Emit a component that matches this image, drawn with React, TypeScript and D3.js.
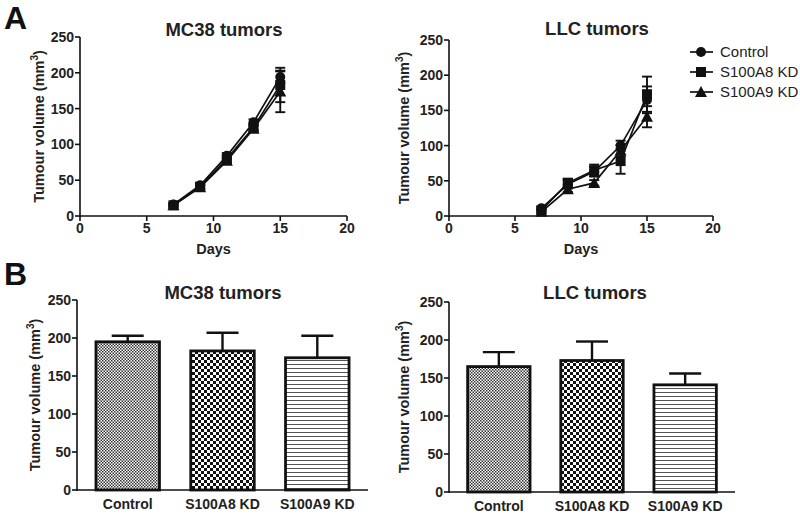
import React from "react";
import * as d3 from "d3";

const days = [7, 9, 11, 13, 15];
const groups = ["Control", "S100A8 KD", "S100A9 KD"];
const markers = ["circle", "square", "triangle"];

const mc38Mean = [
  [16, 43, 84, 131, 194],
  [15, 41, 80, 124, 183],
  [15, 40, 77, 122, 174],
];
const mc38Err = [
  [2, 3, 4, 4, 8],
  [2, 3, 4, 4, 24],
  [2, 3, 4, 4, 29],
];
const llcMean = [
  [11, 45, 63, 100, 165],
  [8, 47, 65, 78, 173],
  [6, 38, 47, 93, 141],
];
const llcErr = [
  [2, 6, 7, 7, 19],
  [2, 6, 8, 18, 25],
  [2, 4, 4, 8, 15],
];
const mc38Bar = [195, 183, 174];
const mc38BarErr = [8, 24, 29];
const llcBar = [165, 173, 141];
const llcBarErr = [19, 25, 15];

const xTicks = [0, 5, 10, 15, 20];
const yTicks = [0, 50, 100, 150, 200, 250];

const FONT = "'Liberation Sans', Arial, sans-serif";

function Marker({ type, x, y }: { type: string; x: number; y: number }) {
  if (type === "circle") return <circle cx={x} cy={y} r={5} fill="#111" />;
  if (type === "square") return <rect x={x - 5} y={y - 5} width={10} height={10} fill="#111" />;
  return <path d={`M${x},${y - 6}L${x + 6},${y + 5}L${x - 6},${y + 5}Z`} fill="#111" />;
}

function YAxis({ y, x0, labelX }: { y: d3.ScaleLinear<number, number>; x0: number; labelX: number }) {
  const [r0, r1] = y.range();
  return (
    <g>
      <line x1={x0} x2={x0} y1={r0 + 1} y2={r1} stroke="#111" strokeWidth={1.6} />
      {yTicks.map((t) => (
        <g key={t}>
          <line x1={x0 - 5} x2={x0} y1={y(t)} y2={y(t)} stroke="#111" strokeWidth={1.6} />
          <text x={x0 - 6} y={y(t)} dy="0.36em" textAnchor="end" fontSize={14} fontWeight="bold" fill="#222">
            {t}
          </text>
        </g>
      ))}
      <text
        transform={`translate(${labelX},${(r0 + r1) / 2}) rotate(-90)`}
        textAnchor="middle"
        fontSize={14.5}
        fontWeight="bold"
        fill="#222"
      >
        Tumour volume (mm
        <tspan dy="-6" fontSize={10}>3</tspan>
        <tspan dy="6">)</tspan>
      </text>
    </g>
  );
}

function LinePanel({
  title, titleX, titleY, means, errs, xr, yr, labelX, legend,
}: {
  title: string; titleX: number; titleY: number; means: number[][]; errs: number[][]; xr: [number, number]; yr: [number, number]; labelX: number; legend?: boolean;
}) {
  const x = d3.scaleLinear().domain([0, 20]).range(xr);
  const y = d3.scaleLinear().domain([0, 250]).range(yr);
  const line = d3.line<number>().x((_, i) => x(days[i])).y((d) => y(d));
  return (
    <g>
      <text x={titleX} y={titleY} textAnchor="middle" fontSize={18.5} fontWeight="bold" fill="#222">
        {title}
      </text>
      <YAxis y={y} x0={xr[0]} labelX={labelX} />
      <line x1={xr[0]} x2={xr[1]} y1={yr[0]} y2={yr[0]} stroke="#111" strokeWidth={1.6} />
      {xTicks.map((t) => (
        <g key={t}>
          <line x1={x(t)} x2={x(t)} y1={yr[0]} y2={yr[0] + 5} stroke="#111" strokeWidth={1.6} />
          <text x={x(t)} y={yr[0] + 17} textAnchor="middle" fontSize={14} fontWeight="bold" fill="#222">
            {t}
          </text>
        </g>
      ))}
      <text x={(xr[0] + xr[1]) / 2} y={yr[0] + 38} textAnchor="middle" fontSize={14.5} fontWeight="bold" fill="#222">
        Days
      </text>
      {means.map((m, gi) => (
        <g key={gi}>
          <path d={line(m) || ""} fill="none" stroke="#111" strokeWidth={1.7} />
          {m.map((v, i) => {
            const cx = x(days[i]);
            const e = errs[gi][i];
            return (
              <g key={i}>
                <line x1={cx} x2={cx} y1={y(v - e)} y2={y(v + e)} stroke="#111" strokeWidth={1.9} />
                <line x1={cx - 5} x2={cx + 5} y1={y(v - e)} y2={y(v - e)} stroke="#111" strokeWidth={1.9} />
                <line x1={cx - 5} x2={cx + 5} y1={y(v + e)} y2={y(v + e)} stroke="#111" strokeWidth={1.9} />
                <Marker type={markers[gi]} x={cx} y={y(v)} />
              </g>
            );
          })}
        </g>
      ))}
      {legend &&
        groups.map((g, i) => (
          <g key={g}>
            <line x1={690} x2={713} y1={52 + i * 20} y2={52 + i * 20} stroke="#111" strokeWidth={1.7} />
            <Marker type={markers[i]} x={701} y={52 + i * 20} />
            <text x={720} y={52 + i * 20} dy="0.36em" fontSize={15} fill="#222">
              {g}
            </text>
          </g>
        ))}
    </g>
  );
}

const patterns = ["url(#pFine)", "url(#pCheck)", "url(#pLines)"];

function BarPanel({
  title, titleX, titleY, vals, errs, xr, yr, labelX,
}: {
  title: string; titleX: number; titleY: number; vals: number[]; errs: number[]; xr: [number, number]; yr: [number, number]; labelX: number;
}) {
  const x = d3.scaleBand<string>().domain(groups).range(xr).paddingInner(0.33).paddingOuter(0.2);
  const y = d3.scaleLinear().domain([0, 250]).range(yr);
  return (
    <g>
      <text x={titleX} y={titleY} textAnchor="middle" fontSize={18.5} fontWeight="bold" fill="#222">
        {title}
      </text>
      {groups.map((g, i) => {
        const bx = x(g)!;
        const bw = x.bandwidth();
        const cx = bx + bw / 2;
        return (
          <g key={g}>
            <line x1={cx} x2={cx} y1={y(vals[i])} y2={y(vals[i] + errs[i])} stroke="#111" strokeWidth={2.4} />
            <line x1={cx - 16} x2={cx + 16} y1={y(vals[i] + errs[i])} y2={y(vals[i] + errs[i])} stroke="#111" strokeWidth={2.4} />
            <rect x={bx} y={y(vals[i])} width={bw} height={yr[0] - y(vals[i])} fill={patterns[i]} stroke="#111" strokeWidth={2.8} />
            <text x={cx} y={yr[0] + 19} textAnchor="middle" fontSize={14} fontWeight="bold" fill="#222">
              {g}
            </text>
          </g>
        );
      })}
      <YAxis y={y} x0={xr[0]} labelX={labelX} />
      <line x1={xr[0]} x2={xr[1]} y1={yr[0]} y2={yr[0]} stroke="#111" strokeWidth={1.6} />
    </g>
  );
}

export default function App() {
  return (
    <svg width={800} height={516} style={{ position: "absolute", left: 0, top: 0, background: "#fff" }} fontFamily={FONT}>
      <defs>
        <pattern id="pFine" width={3} height={3} patternUnits="userSpaceOnUse">
          <rect width={3} height={3} fill="#fff" />
          <rect width={1.5} height={1.5} fill="#333" />
          <rect x={1.5} y={1.5} width={1.5} height={1.5} fill="#333" />
        </pattern>
        <pattern id="pCheck" width={6} height={6} patternUnits="userSpaceOnUse">
          <rect width={6} height={6} fill="#fff" />
          <rect width={3} height={3} fill="#111" />
          <rect x={3} y={3} width={3} height={3} fill="#111" />
        </pattern>
        <pattern id="pLines" width={4} height={4} patternUnits="userSpaceOnUse">
          <rect width={4} height={4} fill="#fff" />
          <rect y={0} width={4} height={1} fill="#555" />
        </pattern>
      </defs>
      <rect width={800} height={516} fill="#fff" />
      <text x={4} y={29} fontSize={32} fontWeight="bold" fill="#111">A</text>
      <text x={4} y={285} fontSize={32} fontWeight="bold" fill="#111">B</text>
      <LinePanel title="MC38 tumors" titleX={224} titleY={36} means={mc38Mean} errs={mc38Err} xr={[80, 347]} yr={[216, 37]} labelX={44} />
      <LinePanel title="LLC tumors" titleX={597} titleY={35} means={llcMean} errs={llcErr} xr={[449, 713]} yr={[216, 40]} labelX={409} legend />
      <BarPanel title="MC38 tumors" titleX={223} titleY={299} vals={mc38Bar} errs={mc38BarErr} xr={[77, 368]} yr={[490, 300]} labelX={40} />
      <BarPanel title="LLC tumors" titleX={595} titleY={299} vals={llcBar} errs={llcBarErr} xr={[449, 735]} yr={[492, 302]} labelX={409} />
    </svg>
  );
}
